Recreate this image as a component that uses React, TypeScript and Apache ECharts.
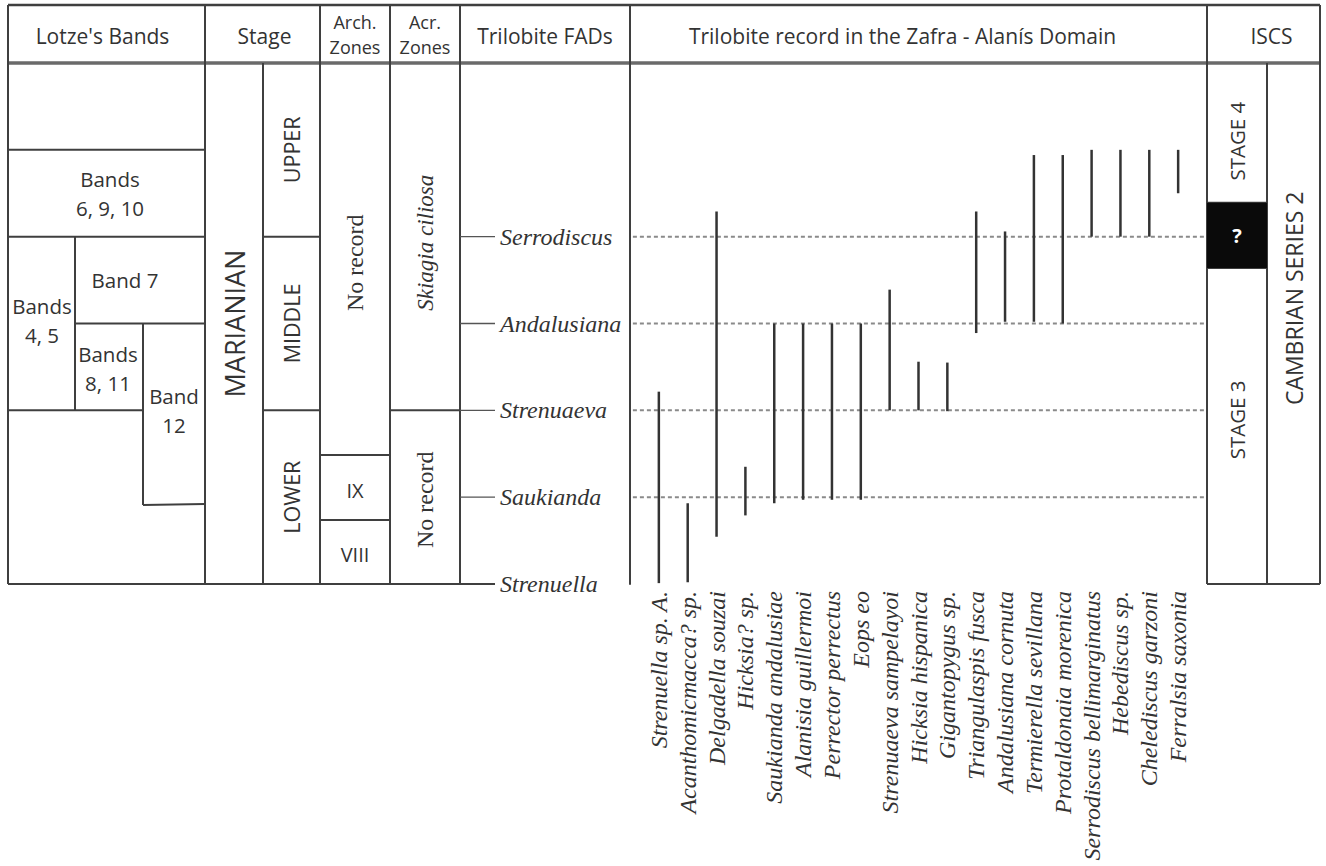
import React, { useEffect, useRef } from 'react';
import * as echarts from 'echarts';

// ---------- data ----------
const species = [
  'Strenuella sp. A.', 'Acanthomicmacca? sp.', 'Delgadella souzai', 'Hicksia? sp.',
  'Saukianda andalusiae', 'Alanisia guillermoi', 'Perrector perrectus', 'Eops eo',
  'Strenuaeva sampelayoi', 'Hicksia hispanica', 'Gigantopygus sp.', 'Triangulaspis fusca',
  'Andalusiana cornuta', 'Termierella sevillana', 'Protaldonaia morenica',
  'Serrodiscus bellimarginatus', 'Hebediscus sp.', 'Chelediscus garzoni', 'Ferralsia saxonia',
];
// stratigraphic level units: 0 = Strenuella FAD, 1 = Saukianda, 2 = Strenuaeva, 3 = Andalusiana, 4 = Serrodiscus
const rangeBase = [0.01, 0.02, 0.545, 0.79, 0.93, 0.97, 0.97, 0.97, 2.0, 2.0, 1.99, 2.89, 3.02, 3.02, 3.0, 4.0, 4.0, 4.0, 4.5];
const rangeTop = [2.215, 0.93, 4.29, 1.35, 3.0, 3.0, 3.0, 3.0, 3.39, 2.56, 2.55, 4.29, 4.06, 4.94, 4.94, 5.0, 5.0, 5.0, 5.0];

const fadNames = ['Strenuella', 'Saukianda', 'Strenuaeva', 'Andalusiana', 'Serrodiscus'];
const fadLevels = [0, 1, 2, 3, 4];
const dottedLevels = [1, 2, 3, 4];

const headerTitles = ["Lotze's Bands", 'Stage', 'Arch.\nZones', 'Acr.\nZones', 'Trilobite FADs', 'Trilobite record in the Zafra - Alanís Domain', 'ISCS'];

const lotzeLabels = ['Bands\n6, 9, 10', 'Band 7', 'Bands\n4, 5', 'Bands\n8, 11', 'Band\n12'];
const lotzeLabelLevels = [4.5, 3.5, 3.04, 2.48, 2.0];
const lotzeLevels = { top: 5.0, band7: 4.0, band811: 3.0, base45: 2.0, band12Base: 0.91 };

const subStages = ['UPPER', 'MIDDLE', 'LOWER'];
const subStageBounds = [6, 4, 2, 0];
const archZones = ['No record', 'IX', 'VIII'];
const archBounds = [6, 1.486, 0.737, 0];
const acrZones = ['Skiagia ciliosa', 'No record'];
const acrBounds = [6, 2, 0];
const iscsStages = ['STAGE 4', '?', 'STAGE 3'];
const iscsBounds = [6, 4.39, 3.64, 0];
const iscsSeries = 'CAMBRIAN SERIES 2';
const stageName = 'MARIANIAN';

// ---------- layout ----------
const W = 1326, H = 866;
const COL = { left: 8, stage: 205, sub: 263, arch: 320, acr: 390, fad: 460, rec: 630, iscs: 1207, iscsSub: 1267, right: 1320 };
const HEAD_TOP = 5;
const LINE = '#3f3f3f';
const TXT = '#333';
const SANS = '"Open Sans", "Noto Sans", sans-serif';
const SERIF = '"Liberation Serif", "DejaVu Serif", serif';

export default function App() {
  const ref = useRef<HTMLDivElement>(null);
  useEffect(() => {
    const chart = echarts.init(ref.current!, null, { renderer: 'svg' });
    chart.setOption({
      animation: false,
      backgroundColor: '#ffffff',
      grid: { left: COL.rec, right: W - COL.iscs, top: 63, bottom: H - 584 },
      xAxis: {
        type: 'value', min: -1, max: 19, interval: 1,
        axisLine: { show: false }, axisTick: { show: false }, splitLine: { show: false },
        axisLabel: {
          rotate: 90, margin: 7,
          formatter: (v: number) => species[v] ?? '',
          fontFamily: SERIF, fontStyle: 'italic', fontSize: 24, color: TXT,
        },
      },
      yAxis: {
        type: 'value', min: 0, max: 6, interval: 1,
        axisLine: { show: true, onZero: false, lineStyle: { color: LINE, width: 2 } },
        axisTick: { show: false }, axisLabel: { show: false }, splitLine: { show: false },
      },
      series: [
        {
          type: 'custom', name: 'levels', silent: true,
          data: dottedLevels.map((v) => [0, v]),
          renderItem: (params: any, api: any) => {
            const a = api.coord([-0.9, api.value(1)]);
            const b = api.coord([18.9, api.value(1)]);
            return { type: 'line', shape: { x1: a[0], y1: a[1], x2: b[0], y2: b[1] }, style: { stroke: '#8a8a8a', lineWidth: 2, lineDash: [4, 3] } };
          },
        },
        {
          type: 'custom', name: 'ranges',
          data: species.map((s, i) => [i, rangeBase[i], rangeTop[i]]),
          encode: { x: 0, y: [1, 2] },
          renderItem: (params: any, api: any) => {
            const a = api.coord([api.value(0), api.value(1)]);
            const b = api.coord([api.value(0), api.value(2)]);
            return { type: 'line', shape: { x1: a[0], y1: a[1], x2: b[0], y2: b[1] }, style: { stroke: '#333', lineWidth: 2.5 } };
          },
        },
      ],
    });

    const Y = (v: number) => chart.convertToPixel({ yAxisIndex: 0 }, v) as number;
    const g: any[] = [];
    const ln = (x1: number, y1: number, x2: number, y2: number, w = 2, c = LINE) =>
      g.push({ type: 'line', silent: true, shape: { x1, y1, x2, y2 }, style: { stroke: c, lineWidth: w } });
    const tx = (text: string, x: number, y: number, o: any = {}) =>
      g.push({
        type: 'text', silent: true, x, y, rotation: o.rot ?? 0,
        style: {
          text, fill: o.fill ?? TXT, fontFamily: o.family ?? SANS, fontSize: o.size ?? 20,
          fontStyle: o.italic ? 'italic' : 'normal', fontWeight: o.bold ? 'bold' : 'normal',
          align: o.align ?? 'center', verticalAlign: 'middle', lineHeight: o.lh ?? 26,
        },
      });

    const y0 = Y(0), y6 = Y(6);
    // frame & header
    ln(COL.left, HEAD_TOP, COL.right, HEAD_TOP, 2.5);
    ln(COL.left, y6, COL.right, y6, 3.5, '#6a6a6a');
    [COL.left, COL.stage, COL.arch, COL.acr, COL.fad, COL.iscs, COL.right].forEach((x) => ln(x, HEAD_TOP, x, y0));
    ln(COL.rec, HEAD_TOP, COL.rec, y6);
    ln(COL.sub, y6, COL.sub, y0);
    ln(COL.iscsSub, y6, COL.iscsSub, y0);
    ln(COL.left, y0, COL.fad, y0);
    ln(COL.iscs, y0, COL.right, y0);

    const hy = (HEAD_TOP + y6) / 2 + 2;
    const headerX = [(COL.left + COL.stage) / 2 - 4, (COL.stage + COL.arch) / 2 + 2, (COL.arch + COL.acr) / 2, (COL.acr + COL.fad) / 2, (COL.fad + COL.rec) / 2, (COL.rec + COL.iscs) / 2 - 16, (COL.iscs + COL.right) / 2 + 8];
    headerTitles.forEach((t, i) => {
      const two = t.includes('\n');
      tx(t, headerX[i], two ? hy - 2 : hy, { size: two ? 18 : 21, lh: 25 });
    });

    // Lotze's bands
    ln(COL.left, Y(lotzeLevels.top), COL.stage, Y(lotzeLevels.top));
    ln(COL.left, Y(lotzeLevels.band7), COL.stage, Y(lotzeLevels.band7));
    ln(75, Y(lotzeLevels.band7), 75, Y(lotzeLevels.base45));
    ln(75, Y(lotzeLevels.band811), COL.stage, Y(lotzeLevels.band811));
    ln(143, Y(lotzeLevels.band811), 143, Y(lotzeLevels.band12Base));
    ln(COL.left, Y(lotzeLevels.base45), 143, Y(lotzeLevels.base45));
    ln(143, Y(lotzeLevels.band12Base), COL.stage, Y(lotzeLevels.band12Base) - 1);
    const lotzeX = [110, 125, 42, 108, 174];
    lotzeLabels.forEach((t, i) => tx(t, lotzeX[i], Y(lotzeLabelLevels[i]), { size: 20.5, lh: 29 }));

    // stage
    tx(stageName, (COL.stage + COL.sub) / 2, Y(3), { rot: Math.PI / 2, size: 27 });
    subStages.forEach((t, i) => {
      if (i > 0) ln(COL.sub, Y(subStageBounds[i]), COL.arch, Y(subStageBounds[i]));
      tx(t, (COL.sub + COL.arch) / 2, Y((subStageBounds[i] + subStageBounds[i + 1]) / 2), { rot: Math.PI / 2, size: 21.5 });
    });
    // arch zones
    const archLabelLevel = [3.7, 1.08, 0.34];
    archZones.forEach((t, i) => {
      if (i > 0) ln(COL.arch, Y(archBounds[i]), COL.acr, Y(archBounds[i]));
      tx(t, (COL.arch + COL.acr) / 2, Y(archLabelLevel[i]), i === 0 ? { rot: Math.PI / 2, family: SERIF, size: 24 } : { size: 20 });
    });
    // acr zones
    const acrLabelLevel = [3.93, 0.97];
    acrZones.forEach((t, i) => {
      if (i > 0) ln(COL.acr, Y(acrBounds[i]), COL.fad, Y(acrBounds[i]));
      tx(t, (COL.acr + COL.fad) / 2, Y(acrLabelLevel[i]), { rot: Math.PI / 2, family: SERIF, size: i === 0 ? 23 : 24, italic: i === 0 });
    });
    // FADs
    fadNames.forEach((t, i) => {
      const y = Y(fadLevels[i]);
      ln(COL.fad, y, 495, y, i === 0 ? 2 : 1.3, i === 0 ? LINE : '#555');
      tx(t, 500, y, { family: SERIF, italic: true, size: 24, align: 'left' });
    });
    // ISCS
    ln(COL.iscs, Y(iscsBounds[1]), COL.iscsSub, Y(iscsBounds[1]));
    ln(COL.iscs, Y(iscsBounds[2]), COL.iscsSub, Y(iscsBounds[2]));
    g.push({ type: 'rect', silent: true, shape: { x: COL.iscs, y: Y(iscsBounds[1]), width: COL.iscsSub - COL.iscs, height: Y(iscsBounds[2]) - Y(iscsBounds[1]) }, style: { fill: '#0a0a0a' } });
    const iscsLabelLevel = [5.1, 4.015, 1.89];
    const cx = (COL.iscs + COL.iscsSub) / 2;
    tx(iscsStages[0], cx, Y(iscsLabelLevel[0]), { rot: Math.PI / 2, size: 20.5 });
    tx(iscsStages[1], cx, Y(iscsLabelLevel[1]), { size: 20, bold: true, fill: '#fff' });
    tx(iscsStages[2], cx, Y(iscsLabelLevel[2]), { rot: Math.PI / 2, size: 20.5 });
    tx(iscsSeries, (COL.iscsSub + COL.right) / 2, Y(3.29), { rot: Math.PI / 2, size: 23 });

    chart.setOption({ graphic: g });
    return () => chart.dispose();
  }, []);
  return <div ref={ref} style={{ position: 'absolute', left: 0, top: 0, width: W, height: H }} />;
}
